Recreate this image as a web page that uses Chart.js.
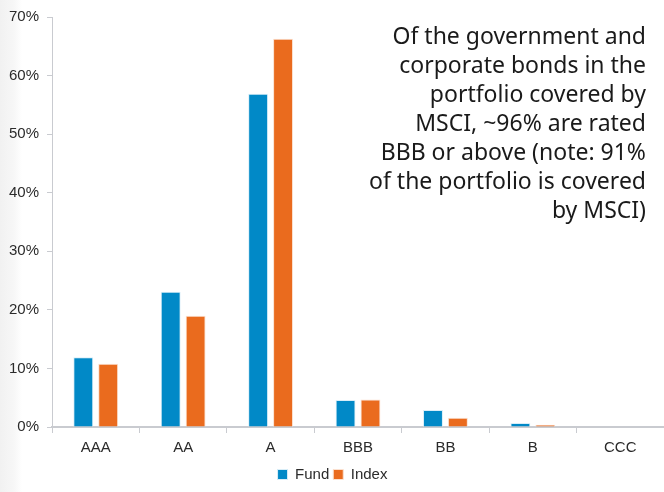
<!DOCTYPE html>
<html lang="en">
<head>
    <meta charset="UTF-8">
    <title>Credit Rating Breakdown</title>
    <script src="https://cdn.jsdelivr.net/npm/chart.js"></script>
    <style>
        body {
            margin: 0;
            background: #ffffff;
            font-family: 'Liberation Sans', Arial, sans-serif;
        }
        .wrap {
            position: relative;
            width: 664px;
            height: 492px;
            background: linear-gradient(to right, #f1f1f1 0px, #f7f7f7 14px, #ffffff 22px);
        }
        .note {
            position: absolute;
            right: 18px;
            top: 21px;
            width: 320px;
            text-align: right;
            font-family: 'Noto Sans', sans-serif;
            font-size: 23px;
            line-height: 29px;
            color: #1a1a1a;
            white-space: nowrap;
        }
    </style>
</head>
<body>
    <div class="wrap">
        <canvas id="ratingChart" width="664" height="492"></canvas>
        <div class="note">Of the government and<br>corporate bonds in the<br>portfolio covered by<br>MSCI, ~96% are rated<br>BBB or above (note: 91%<br>of the portfolio is covered<br>by MSCI)</div>
    </div>

    <script>
        const ratings = ['AAA', 'AA', 'A', 'BBB', 'BB', 'B', 'CCC'];
        const fund = [11.9, 23.1, 56.9, 4.6, 2.9, 0.7, 0];
        const index = [10.8, 19.0, 66.3, 4.7, 1.6, 0.4, 0];
        const yTicks = [0, 10, 20, 30, 40, 50, 60, 70];

        const axisColor = '#c9cbd0';
        const textColor = '#2b2b2b';

        const ctx = document.getElementById('ratingChart').getContext('2d');
        new Chart(ctx, {
            type: 'bar',
            data: {
                labels: ratings,
                datasets: [{
                    label: 'Fund',
                    data: fund,
                    backgroundColor: '#0189c7',
                    borderColor: '#d9eef8',
                    borderWidth: 1,
                    barPercentage: 0.8,
                    categoryPercentage: 0.57
                }, {
                    label: 'Index',
                    data: index,
                    backgroundColor: '#ea6b1e',
                    borderColor: '#fbe0cf',
                    borderWidth: 1,
                    barPercentage: 0.8,
                    categoryPercentage: 0.57
                }]
            },
            options: {
                responsive: false,
                animation: false,
                layout: {
                    padding: { top: 2, right: 0, left: 1, bottom: 0 }
                },
                scales: {
                    x: {
                        grid: {
                            display: true,
                            drawOnChartArea: false,
                            offset: true,
                            tickLength: 6,
                            color: axisColor
                        },
                        border: { color: axisColor, width: 2 },
                        ticks: {
                            color: textColor,
                            font: { family: "'Liberation Sans', Arial", size: 15 },
                            padding: 6
                        }
                    },
                    y: {
                        min: 0,
                        max: 70,
                        afterBuildTicks: function(scale) {
                            scale.ticks = yTicks.map(v => ({ value: v }));
                        },
                        grid: {
                            display: true,
                            drawOnChartArea: false,
                            tickLength: 5,
                            color: axisColor
                        },
                        border: { color: axisColor, width: 1 },
                        ticks: {
                            color: textColor,
                            font: { family: "'Liberation Sans', Arial", size: 15 },
                            padding: 8,
                            callback: function(value) {
                                return value + '%';
                            }
                        }
                    }
                },
                plugins: {
                    legend: {
                        position: 'bottom',
                        labels: {
                            color: textColor,
                            boxWidth: 10,
                            boxHeight: 10,
                            padding: 4,
                            font: { family: "'Liberation Sans', Arial", size: 15 }
                        }
                    },
                    tooltip: { enabled: false }
                }
            }
        });
    </script>
</body>
</html>
